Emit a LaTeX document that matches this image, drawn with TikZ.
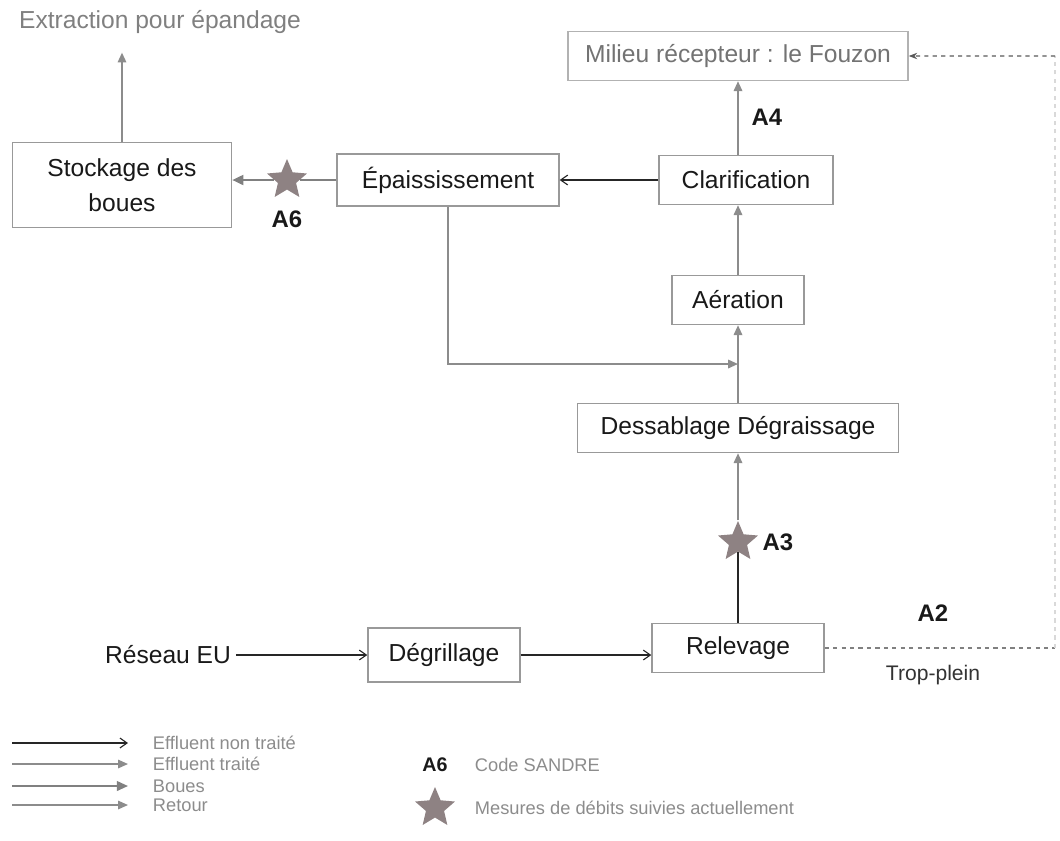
\documentclass[tikz,border=0pt]{standalone}
\usepackage{fontspec}
\setmainfont{Liberation Sans}
\usepackage{tikz}
\usetikzlibrary{positioning,arrows.meta,shapes.geometric,calc}

\definecolor{starc}{HTML}{8E8283}

\tikzset{
  unit/.style={draw=black!40, line width=1pt, fill=white, minimum height=1.225cm,
    inner sep=2pt, text=black!90, font=\fontsize{17.5}{21}\selectfont},
  mstar/.style={star, star points=5, star point ratio=2.2, fill=starc, draw=none,
    minimum size=1.05cm, inner sep=0pt},
  code/.style={font=\fontsize{17}{20}\selectfont\bfseries, text=black!90},
  legtxt/.style={anchor=west, text=black!45, font=\fontsize{13}{15}\selectfont},
  untreated/.style={draw=black!85, line width=0.8pt, -{Straight Barb[length=5pt,width=7pt]}},
  treated/.style={draw=black!45, line width=1.3pt, -{Triangle[length=7pt,width=6pt]}},
  sludge/.style={draw=black!50, line width=1.8pt, -{Triangle[length=8pt,width=7pt]}},
  backflow/.style={draw=black!45, line width=1.3pt, -{Triangle[length=7pt,width=6pt]}},
  overflow/.style={draw=black!50, line width=1pt, dashed}
}

\begin{document}
\begin{tikzpicture}[on grid, node distance=3cm]
   \useasboundingbox (0,0) rectangle (26.5,-21);

   \node[unit, minimum width=4.3cm] (relev) at (18.45,-16.2) {Relevage};
   \node[unit, minimum width=3.8cm, minimum height=1.35cm, below left=1.75mm and 7.35cm of relev] (degr) {Dégrillage};
   \node[left=6.9cm of degr, text=black!90, font=\fontsize{17.5}{21}\selectfont] (reseau) {Réseau EU};
   \node[mstar, above=2.65cm of relev] (s3) {};
   \node[unit, minimum width=8.025cm, above=5.5cm of relev] (dessab) {Dessablage Dégraissage};
   \node[unit, minimum width=3.3cm, above=3.2cm of dessab] (aer) {Aération};
   \node[unit, minimum width=4.35cm, above right=3cm and 0.2cm of aer] (clar) {Clarification};
   \node[unit, minimum width=8.5cm, draw=black!30, text=black!55, above=6.1cm of aer] (milieu) {Milieu récepteur : le Fouzon};
   \node[unit, minimum width=5.55cm, minimum height=1.3cm, left=7.45cm of clar] (epai) {Épaississement};
   \node[mstar, left=4.025cm of epai] (s6) {};
   \node[unit, minimum width=5.475cm, minimum height=2.125cm, align=center,
     font=\fontsize{17.5}{25}\selectfont, below left=0.125cm and 8.15cm of epai] (stock) {Stockage des\\boues};
   \node[above right=4.075cm and 0.95cm of stock, text=black!50, font=\fontsize{17.5}{21}\selectfont] (extr) {Extraction pour épandage};

   \node[code, above right=1.575cm and 0.525cm of clar] (a4) {A4};
   \node[code, below=0.975cm of s6] (a6) {A6};
   \node[code, right=1cm of s3] (a3) {A3};
   \node[code, above right=0.875cm and 4.875cm of relev] (a2) {A2};
   \node[below right=0.675cm and 4.875cm of relev, text=black!80, font=\fontsize{15}{18}\selectfont] (trop) {Trop-plein};

   \coordinate (join) at ($(aer.south)!0.5!(dessab.north)$);
   \coordinate[right=7.925cm of relev] (rim);
   \coordinate[above=14.8cm of rim] (rimtop);

   \draw[untreated] (reseau) -- (degr);
   \draw[untreated] (degr) -- (degr -| relev.west);
   \draw[draw=black!85, line width=1pt] (relev) -- (s3);
   \draw[treated] (s3) -- (dessab);
   \draw[treated] (dessab) -- (aer);
   \draw[treated] (aer) -- (aer |- clar.south);
   \draw[treated] (clar.north -| aer) -- (milieu.south -| aer);
   \draw[untreated] (clar) -- (epai);
   \draw[sludge, -] (epai) -- (s6);
   \draw[sludge] (s6) -- (s6 -| stock.east);
   \draw[treated, shorten >=0.35cm] (stock.north) -- (stock.north |- extr.south);
   \draw[backflow] (epai.south) |- (join);
   \draw[overflow] (relev) -- (rim);
   \draw[overflow, draw=black!15] (rim) -- (rimtop);
   \draw[overflow, draw=black!65, -{Stealth[length=6pt]}] (rimtop) -- (milieu);

   \node[legtxt] (lg1) at (3.7,-18.575) {Effluent non traité};
   \node[legtxt] (lg2) at (3.7,-19.1) {Effluent traité};
   \node[legtxt] (lg3) at (3.7,-19.65) {Boues};
   \node[legtxt] (lg4) at (3.7,-20.125) {Retour};
   \draw[untreated] ([xshift=-3.4cm]lg1.west) -- ([xshift=-0.5cm]lg1.west);
   \draw[treated, line width=1pt] ([xshift=-3.4cm]lg2.west) -- ([xshift=-0.5cm]lg2.west);
   \draw[sludge, line width=1.3pt] ([xshift=-3.4cm]lg3.west) -- ([xshift=-0.5cm]lg3.west);
   \draw[backflow, line width=1pt] ([xshift=-3.4cm]lg4.west) -- ([xshift=-0.5cm]lg4.west);

   \node[code, font=\fontsize{14}{16}\selectfont\bfseries] (lgcode) at (10.875,-19.125) {A6};
   \node[legtxt] (lg5) at (11.75,-19.125) {Code SANDRE};
   \node[mstar] (lgstar) at (10.875,-20.2) {};
   \node[legtxt] (lg6) at (11.75,-20.2) {Mesures de débits suivies actuellement};
\end{tikzpicture}
\end{document}
